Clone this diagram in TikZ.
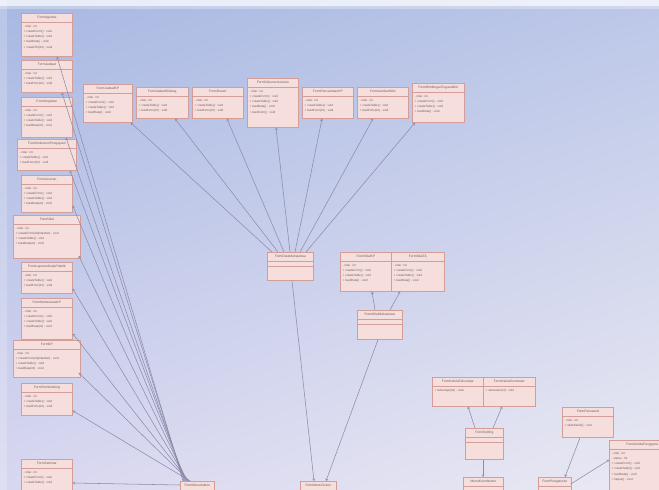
\documentclass[tikz,border=0pt]{standalone}
\usepackage{fontspec}
\setmainfont{Liberation Sans}
\usetikzlibrary{calc,arrows.meta,shadings}
\definecolor{bgUL}{HTML}{A8B8E2}
\definecolor{bgUR}{HTML}{BCC7E8}
\definecolor{bgLL}{HTML}{D8D7F0}
\definecolor{bgLR}{HTML}{EAE9F3}
\definecolor{boxfill}{HTML}{F5DEDB}
\definecolor{boxline}{HTML}{D49E98}
\definecolor{txt}{HTML}{6E5E60}
\definecolor{lnk}{HTML}{8E8CAC}
\tikzset{
  ubox/.style={draw=boxline, fill=boxfill, line width=0.7pt, inner sep=0pt, rectangle},
  utitle/.style={font=\fontsize{3.3}{3.8}\selectfont, text=txt, inner sep=0pt},
  ubody/.style={font=\fontsize{3}{5.2}\selectfont, text=txt, align=left, inner sep=0pt, anchor=north west},
  usep/.style={draw=boxline, line width=0.5pt},
  conn/.style={draw=lnk, line width=0.55pt, {Straight Barb[length=1.8pt,width=2.4pt]}-},
}
% name, x1, y1, x2, y2, title, body
\newcommand{\UBox}[7]{%
  \node[ubox, anchor=north west, minimum width={(#4-#2)*1pt}, minimum height={(#5-#3)*1pt}] (#1) at (#2,#3) {};
  \node[utitle] (#1t) at ($(#1.north)+(0,4.6)$) {#6};
  \draw[usep] ($(#1.north west)+(0,9.2)$) -- ($(#1.north east)+(0,9.2)$);
  \node[ubody] (#1b) at ($(#1.north west)+(2.5,12)$) {#7};
}
% empty class box: name, x1, y1, x2, y2, title
\newcommand{\HBox}[6]{%
  \node[ubox, anchor=north west, minimum width={(#4-#2)*1pt}, minimum height={(#5-#3)*1pt}] (#1) at (#2,#3) {};
  \node[utitle] (#1t) at ($(#1.north)+(0,4.6)$) {#6};
  \draw[usep] ($(#1.north west)+(0,9.2)$) -- ($(#1.north east)+(0,9.2)$);
  \draw[usep] ($(#1.north west)+(0,14)$) -- ($(#1.north east)+(0,14)$);
}
\begin{document}
\begin{tikzpicture}[x=1pt,y=-1pt]
\useasboundingbox (0,0) rectangle (659,490);
\clip (0,0) rectangle (659,490);
\shade[upper left=bgUL, upper right=bgUR, lower left=bgLL, lower right=bgLR] (0,0) rectangle (659,490);
\fill[white, opacity=0.75] (0,0) rectangle (659,6);
\fill[white, opacity=0.3] (0,6) rectangle (659,9);
\fill[white, opacity=0.2] (0,0) rectangle (7,490);

% ---------- left column ----------
\UBox{L1}{21}{13}{72}{56}{FormAgenda}{- nilai : int\\+ createForm() : void\\+ createTable() : void\\+ loadData() : void\\+ createTbl(int) : void}
\UBox{L2}{21}{60}{72}{92}{FormJadwal}{- nilai : int\\+ createTable() : void\\+ loadForm(int) : void}
\UBox{L3}{21}{97}{72}{137}{FormKegiatan}{- nilai : int\\+ createForm() : void\\+ createTable() : void\\+ loadData(int) : void}
\UBox{L4}{17}{139}{76}{170}{FormDokumenPengajuan}{- nilai : int\\+ createTable() : void\\+ loadForm(int) : void}
\UBox{L5}{21}{175}{72}{212}{FormJurusan}{- nilai : int\\+ createForm() : void\\+ createTable() : void\\+ loadData(int) : void}
\UBox{L6}{13}{215}{80}{258}{FormNilai}{- nilai : int\\+ createForm(objDataSet) : void\\+ createTable() : void\\+ loadData(int) : void}
\UBox{L7}{21}{262}{72}{293}{FormLaporanKerjaPraktik}{- nilai : int\\+ createTable() : void\\+ loadForm(int) : void}
\UBox{L8}{21}{298}{72}{339}{FormMahasiswaKP}{- nilai : int\\+ createForm() : void\\+ createTable() : void\\+ loadData(int) : void}
\UBox{L9}{13}{340}{80}{377}{FormKP}{- nilai : int\\+ createForm(objDataSet) : void\\+ createTable() : void\\+ loadData(int) : void}
\UBox{L10}{21}{383}{72}{415}{FormPembimbing}{- nilai : int\\+ createTable() : void\\+ loadForm(int) : void}
\UBox{L11}{21}{459}{72}{505}{FormSeminar}{- nilai : int\\+ createForm() : void\\+ createTable() : void}

% ---------- top row ----------
\UBox{T1}{83}{84}{132}{122}{FormJadwalKP}{- nilai : int\\+ createForm() : void\\+ createTable() : void\\+ loadData() : void}
\UBox{T2}{136}{87}{188}{118}{FormJadwalSidang}{- nilai : int\\+ createTable() : void\\+ loadForm(int) : void}
\UBox{T3}{192}{87}{243}{118}{FormDosen}{- nilai : int\\+ createTable() : void\\+ loadForm(int) : void}
\UBox{T4}{247}{78}{298}{127}{FormDokumenUsulan}{- nilai : int\\+ createForm() : void\\+ createTable() : void\\+ loadData() : void\\+ loadForm() : void}
\UBox{T5}{302}{87}{353}{118}{FormPerusahaanKP}{- nilai : int\\+ createTable() : void\\+ loadForm(int) : void}
\UBox{T6}{357}{87}{408}{118}{FormLembarNilai}{- nilai : int\\+ createTable() : void\\+ loadForm(int) : void}
\UBox{T7}{412}{83}{464}{122}{FormBimbinganTugasAkhir}{- nilai : int\\+ createForm() : void\\+ createTable() : void\\+ loadData() : void}

% ---------- middle ----------
\HBox{H2}{267}{252}{313}{280}{FormDataMahasiswa}
\UBox{M1}{340}{252}{391}{291}{FormNilaiKP}{- nilai : int\\+ createForm() : void\\+ createTable() : void\\+ loadData() : void}
\UBox{M2}{391}{252}{444}{291}{FormNilaiTA}{- nilai : int\\+ createForm() : void\\+ createTable() : void\\+ loadData() : void}
\HBox{M3}{357}{310}{402}{339}{FormNilaiMahasiswa}

% ---------- bottom ----------
\HBox{H1}{180}{481}{214}{500}{FormMenuAdmin}
\HBox{H3}{300}{481}{336}{500}{FormMenuDosen}
\UBox{B1}{432}{377}{483}{406}{FormKelolaTahunAjar}{+ tahunAjar(int) : void}
\UBox{B2}{483}{377}{535}{406}{FormKelolaSemester}{+ semester(int) : void}
\HBox{B3}{465}{428}{503}{459}{FormSetting}
\HBox{B4}{463}{477}{503}{500}{MenuKoordinator}
\UBox{B5}{562}{407}{613}{437}{FormPassword}{- nilai : int\\+ ubahSandi() : void}
\HBox{B6}{538}{477}{571}{500}{FormPengaturan}
\UBox{B7}{609}{440}{675}{505}{FormKelolaPengguna}{- nilai : int\\- status : int\\+ createForm() : void\\+ createTable() : void\\+ loadData() : void\\+ hapus() : void}

% ---------- connectors ----------
\draw[conn] ($(L1.south west)+(36,0)$) -- ($(H1.north west)+(3,0)$);
\draw[conn] ($(L2.south west)+(41,0)$) -- ($(H1.north west)+(3.8,0)$);
\draw[conn] ($(L3.south west)+(45,0)$) -- ($(H1.north west)+(4.6,0)$);
\draw[conn] ($(L4.south west)+(53,0)$) -- ($(H1.north west)+(5.4,0)$);
\draw[conn] ($(L5.south east)+(0,-7)$) -- ($(H1.north west)+(6.2,0)$);
\draw[conn] ($(L6.south east)+(-2,-3)$) -- ($(H1.north west)+(7,0)$);
\draw[conn] ($(L7.south east)+(0,-5)$) -- ($(H1.north west)+(7.8,0)$);
\draw[conn] ($(L8.south east)+(0,-6)$) -- ($(H1.north west)+(8.6,0)$);
\draw[conn] ($(L9.south east)+(-2,-5)$) -- ($(H1.north west)+(9.4,0)$);
\draw[conn] ($(L10.south east)+(0,-5)$) -- ($(H1.north west)+(10.2,0)$);
\draw[conn] ($(L11.north east)+(0,24)$) -- ($(H1.north west)+(0,4)$);

\draw[conn] ($(T1.south east)+(-2,0)$) -- ($(H2.north west)+(5,0)$);
\draw[conn] ($(T2.south west)+(39,0)$) -- ($(H2.north west)+(11,0)$);
\draw[conn] ($(T3.south west)+(35,0)$) -- ($(H2.north west)+(17,0)$);
\draw[conn] ($(T4.south west)+(29,0)$) -- ($(H2.north west)+(23,0)$);
\draw[conn] ($(T5.south west)+(20,0)$) -- ($(H2.north west)+(28,0)$);
\draw[conn] ($(T6.south west)+(16,0)$) -- ($(H2.north west)+(33,0)$);
\draw[conn] ($(T7.south west)+(3,0)$) -- ($(H2.north west)+(39,0)$);

\draw[conn] ($(M1.south west)+(32,0)$) -- ($(M3.north west)+(18,0)$);
\draw[conn] ($(M2.south west)+(9,0)$) -- ($(M3.north west)+(33,0)$);

\draw[conn] ($(H3.north west)+(14,0)$) -- ($(H2.south west)+(25,0)$);
\draw[conn] ($(H3.north west)+(26,0)$) -- ($(M3.south west)+(21,0)$);

\draw[conn] ($(B1.south west)+(36,0)$) -- ($(B3.north west)+(10,0)$);
\draw[conn] ($(B2.south west)+(19,0)$) -- ($(B3.north west)+(28,0)$);
\draw[conn] ($(B4.north west)+(20,0)$) -- ($(B3.south west)+(18,0)$);
\draw[conn] ($(B6.north west)+(27,0)$) -- ($(B5.south west)+(18,0)$);
\draw[conn] ($(B7.north west)+(0,20)$) -- ($(B6.north east)+(-1,7)$);
\end{tikzpicture}
\end{document}
